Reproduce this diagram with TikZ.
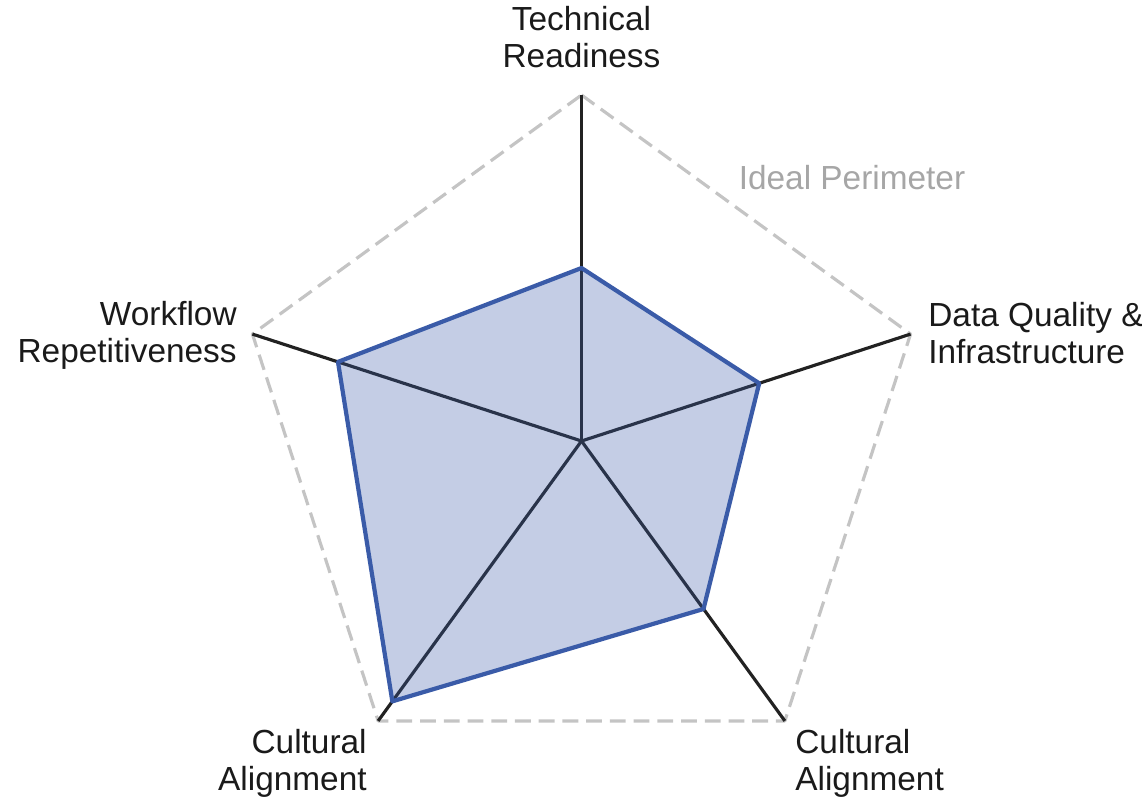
\documentclass[tikz,border=0pt]{standalone}
\usepackage{fontspec}
\setmainfont{Liberation Sans}
\usetikzlibrary{positioning, calc}

\definecolor{labelink}{HTML}{1A1A1A}
\definecolor{spokeink}{HTML}{222222}
\definecolor{idealgray}{HTML}{C4C4C4}
\definecolor{idealtext}{HTML}{A6A6A6}
\definecolor{scoreblue}{HTML}{3A5BA8}

\begin{document}
\begin{tikzpicture}[every node/.style={inner sep=0pt, text=labelink, font=\fontsize{19}{21}\selectfont},
    perimeter/.style={idealgray, line width=1.8pt, dash pattern=on 9pt off 4.5pt, line join=round},
    spoke/.style={spokeink, line width=1.8pt},
    score/.style={scoreblue, line width=2.4pt, line join=round, fill=scoreblue, fill opacity=0.3, draw opacity=1}]
        \useasboundingbox (-11.63,-7.10) rectangle (11.21,8.82);

        % Axis ends and scores
        \coordinate (o) at (0,0);
        \foreach \i/\a/\v in {1/90/0.50, 2/18/0.54, 3/-54/0.60, 4/-126/0.93, 5/162/0.74}
        {
            \coordinate (ax\i) at (\a:6.92);
            \coordinate (p\i) at (\a:{6.92*\v});
        }

        % Ideal perimeter
        \draw[perimeter] (ax1) -- (ax2) -- (ax3) -- (ax4) -- (ax5) -- cycle;

        % Spokes
        \foreach \i in {1,...,5}
        \draw[spoke] (o) -- (ax\i);

        % Score polygon
        \draw[score] (p1) -- (p2) -- (p3) -- (p4) -- (p5) -- cycle;

        % Labels
        \node (tech) [align=center] at (0,8.08) {Technical\\Readiness};
        \node (data) [align=left, anchor=west] at (6.93,2.16) {Data Quality \&\\Infrastructure};
        \node (flow) [align=right, anchor=east] at (-6.89,2.12) {Workflow\\Repetitiveness};
        \node (cultL) [align=right, anchor=east] at (-4.29,-6.44) {Cultural\\Alignment};
        \node (cultR) [align=left, anchor=west] at (4.27,-6.44) {Cultural\\Alignment};
        \node (ideal) [text=idealtext] at (5.41,5.27) {Ideal Perimeter};

        \end{tikzpicture}
\end{document}
